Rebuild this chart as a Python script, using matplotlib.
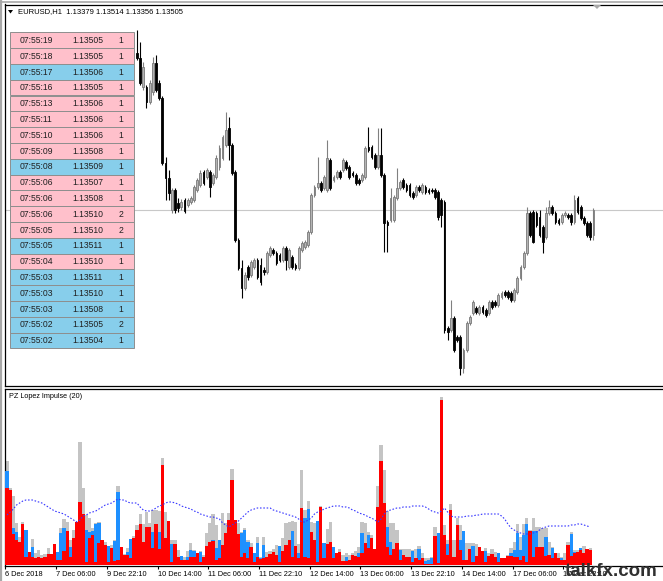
import matplotlib
matplotlib.use("Agg")
import matplotlib.pyplot as plt
from matplotlib.patches import Rectangle, Polygon
from matplotlib.lines import Line2D
import numpy as np

# ---------------- data ----------------
symbol = "EURUSD,H1"
header_ohlc = ["1.13379", "1.13514", "1.13356", "1.13505"]
bid_price = 1.13505

candle_start = 41
c_open = [1.14290, 1.14265, 1.14120, 1.14120, 1.14045, 1.14095, 1.14240, 1.14140, 1.14065, 1.13740,
          1.13665, 1.13505, 1.13605, 1.13540, 1.13520, 1.13555, 1.13530, 1.13545, 1.13555, 1.13605,
          1.13630, 1.13695, 1.13670, 1.13695, 1.13640, 1.13670, 1.13720, 1.13765, 1.13830, 1.13915,
          1.13830, 1.13695, 1.13355, 1.13215, 1.13115, 1.13220, 1.13180, 1.13220, 1.13255, 1.13230,
          1.13205, 1.13195, 1.13280, 1.13305, 1.13290, 1.13280, 1.13255, 1.13315, 1.13220, 1.13270,
          1.13230, 1.13215, 1.13305, 1.13320, 1.13330, 1.13395, 1.13580, 1.13620, 1.13640, 1.13615,
          1.13605, 1.13755, 1.13655, 1.13670, 1.13695, 1.13705, 1.13745, 1.13720, 1.13690, 1.13680,
          1.13655, 1.13655, 1.13670, 1.13820, 1.13820, 1.13780, 1.13720, 1.13780, 1.13680, 1.13445,
          1.13455, 1.13455, 1.13565, 1.13615, 1.13655, 1.13630, 1.13630, 1.13590, 1.13580, 1.13620,
          1.13595, 1.13620, 1.13605, 1.13605, 1.13605, 1.13595, 1.13555, 1.13545, 1.12915, 1.12905,
          1.12965, 1.12870, 1.12870, 1.12715, 1.12805, 1.12940, 1.12990, 1.13015, 1.12990, 1.13020,
          1.13005, 1.12990, 1.13045, 1.13045, 1.13030, 1.13070, 1.13095, 1.13095, 1.13090, 1.13055,
          1.13095, 1.13165, 1.13220, 1.13290, 1.13490, 1.13495, 1.13490, 1.13470, 1.13420, 1.13370,
          1.13490, 1.13520, 1.13490, 1.13455, 1.13445, 1.13480, 1.13480, 1.13480, 1.13445, 1.13565,
          1.13520, 1.13465, 1.13440, 1.13440, 1.13379]
c_close = [1.14265, 1.14140, 1.14220, 1.14045, 1.14140, 1.14240, 1.14105, 1.14065, 1.13740, 1.13665,
           1.13590, 1.13605, 1.13505, 1.13515, 1.13545, 1.13500, 1.13555, 1.13565, 1.13620, 1.13655,
           1.13690, 1.13640, 1.13705, 1.13620, 1.13680, 1.13765, 1.13815, 1.13870, 1.13905, 1.13830,
           1.13690, 1.13355, 1.13215, 1.13115, 1.13180, 1.13170, 1.13245, 1.13255, 1.13170, 1.13145,
           1.13195, 1.13290, 1.13315, 1.13290, 1.13240, 1.13255, 1.13315, 1.13255, 1.13305, 1.13220,
           1.13215, 1.13315, 1.13340, 1.13345, 1.13395, 1.13580, 1.13620, 1.13640, 1.13605, 1.13670,
           1.13765, 1.13615, 1.13670, 1.13695, 1.13670, 1.13755, 1.13715, 1.13670, 1.13680, 1.13640,
           1.13640, 1.13680, 1.13815, 1.13805, 1.13770, 1.13720, 1.13780, 1.13680, 1.13440, 1.13430,
           1.13565, 1.13570, 1.13615, 1.13645, 1.13620, 1.13605, 1.13580, 1.13570, 1.13620, 1.13605,
           1.13630, 1.13595, 1.13595, 1.13600, 1.13570, 1.13470, 1.13480, 1.12905, 1.12895, 1.12965,
           1.12805, 1.12855, 1.12715, 1.12805, 1.12940, 1.12970, 1.13045, 1.12995, 1.13020, 1.12995,
           1.12980, 1.13045, 1.13020, 1.13030, 1.13080, 1.13090, 1.13080, 1.13070, 1.13055, 1.13105,
           1.13165, 1.13220, 1.13290, 1.13490, 1.13380, 1.13345, 1.13430, 1.13380, 1.13345, 1.13490,
           1.13520, 1.13490, 1.13445, 1.13440, 1.13480, 1.13490, 1.13470, 1.13445, 1.13555, 1.13495,
           1.13465, 1.13440, 1.13380, 1.13370, 1.13505]
c_high = [1.14405, 1.14345, 1.14245, 1.14130, 1.14155, 1.14270, 1.14280, 1.14155, 1.14075, 1.13770,
          1.13705, 1.13615, 1.13615, 1.13565, 1.13560, 1.13565, 1.13565, 1.13575, 1.13630, 1.13665,
          1.13705, 1.13705, 1.13715, 1.13705, 1.13690, 1.13780, 1.13830, 1.13880, 1.13995, 1.13970,
          1.13840, 1.13705, 1.13365, 1.13255, 1.13195, 1.13230, 1.13255, 1.13265, 1.13265, 1.13265,
          1.13220, 1.13300, 1.13325, 1.13315, 1.13300, 1.13290, 1.13325, 1.13325, 1.13315, 1.13280,
          1.13240, 1.13325, 1.13350, 1.13355, 1.13405, 1.13590, 1.13630, 1.13770, 1.13650, 1.13680,
          1.13855, 1.13765, 1.13680, 1.13705, 1.13705, 1.13765, 1.13755, 1.13730, 1.13700, 1.13690,
          1.13665, 1.13690, 1.13825, 1.13920, 1.13830, 1.13790, 1.13915, 1.13915, 1.13690, 1.13455,
          1.13615, 1.13580, 1.13715, 1.13655, 1.13665, 1.13640, 1.13640, 1.13600, 1.13630, 1.13630,
          1.13640, 1.13630, 1.13615, 1.13615, 1.13615, 1.13605, 1.13565, 1.13555, 1.12925, 1.13055,
          1.12975, 1.12880, 1.12880, 1.12815, 1.12950, 1.12980, 1.13055, 1.13025, 1.13030, 1.13030,
          1.13015, 1.13055, 1.13055, 1.13055, 1.13090, 1.13100, 1.13105, 1.13105, 1.13100, 1.13115,
          1.13175, 1.13230, 1.13300, 1.13520, 1.13500, 1.13505, 1.13500, 1.13505, 1.13430, 1.13520,
          1.13555, 1.13530, 1.13500, 1.13465, 1.13490, 1.13500, 1.13490, 1.13490, 1.13580, 1.13575,
          1.13530, 1.13475, 1.13450, 1.13450, 1.13514]
c_low = [1.14255, 1.14130, 1.14105, 1.14015, 1.14035, 1.14080, 1.14095, 1.14055, 1.13730, 1.13555,
         1.13555, 1.13490, 1.13490, 1.13495, 1.13505, 1.13490, 1.13520, 1.13535, 1.13545, 1.13595,
         1.13620, 1.13630, 1.13660, 1.13570, 1.13630, 1.13660, 1.13705, 1.13755, 1.13820, 1.13755,
         1.13680, 1.13345, 1.13205, 1.13065, 1.13105, 1.13155, 1.13170, 1.13210, 1.13160, 1.13130,
         1.13180, 1.13185, 1.13270, 1.13280, 1.13230, 1.13245, 1.13245, 1.13205, 1.13210, 1.13210,
         1.13205, 1.13205, 1.13295, 1.13310, 1.13320, 1.13385, 1.13570, 1.13610, 1.13595, 1.13605,
         1.13595, 1.13605, 1.13645, 1.13660, 1.13660, 1.13695, 1.13705, 1.13660, 1.13670, 1.13630,
         1.13630, 1.13645, 1.13660, 1.13795, 1.13760, 1.13710, 1.13710, 1.13670, 1.13295, 1.13295,
         1.13445, 1.13445, 1.13555, 1.13605, 1.13610, 1.13595, 1.13570, 1.13560, 1.13570, 1.13595,
         1.13585, 1.13585, 1.13585, 1.13590, 1.13560, 1.13455, 1.13420, 1.12890, 1.12855, 1.12895,
         1.12795, 1.12845, 1.12680, 1.12690, 1.12795, 1.12930, 1.12980, 1.12985, 1.12980, 1.12985,
         1.12970, 1.12980, 1.13010, 1.13020, 1.13020, 1.13060, 1.13070, 1.13060, 1.13045, 1.13045,
         1.13085, 1.13155, 1.13210, 1.13280, 1.13370, 1.13340, 1.13420, 1.13370, 1.13290, 1.13360,
         1.13480, 1.13480, 1.13435, 1.13430, 1.13435, 1.13470, 1.13460, 1.13430, 1.13435, 1.13485,
         1.13455, 1.13430, 1.13370, 1.13355, 1.13356]

# PZ Lopez Impulse (20): total (grey), bullish (blue), bearish (red), average (dotted)
imp_total = [104, 77, 69, 42, 28, 43, 35, 13, 26, 12,
             15, 10, 11, 17, 11, 21, 13, 37, 46, 43,
             25, 35, 43, 123, 77, 50, 47, 37, 42, 43,
             25, 23, 19, 20, 25, 79, 18, 11, 17, 26,
             29, 40, 51, 41, 53, 42, 55, 55, 54, 107,
             53, 44, 25, 25, 15, 9, 8, 14, 22, 15,
             12, 14, 10, 32, 42, 51, 40, 25, 52, 42,
             52, 96, 45, 42, 33, 37, 25, 22, 12, 28,
             8, 28, 13, 14, 16, 20, 19, 27, 42, 43,
             44, 43, 21, 95, 55, 64, 43, 42, 44, 59,
             22, 36, 43, 18, 12, 16, 10, 12, 10, 12,
             14, 18, 43, 42, 33, 30, 16, 79, 120, 95,
             54, 42, 42, 35, 16, 16, 16, 16, 15, 16,
             19, 12, 7, 7, 8, 38, 32, 168, 40, 25,
             61, 25, 47, 40, 34, 22, 22, 22, 21, 18,
             14, 17, 12, 16, 13, 12, 7, 7, 10, 17,
             23, 41, 28, 41, 47, 35, 47, 38, 38, 37,
             37, 23, 18, 12, 12, 8, 12, 23, 33, 15,
             15, 17, 19, 16, 17]
imp_bull = [94, 0, 37, 33, 0, 0, 35, 0, 18, 0,
            0, 5, 0, 0, 0, 0, 13, 32, 37, 0,
            18, 0, 0, 0, 0, 35, 33, 34, 41, 42,
            0, 0, 19, 0, 24, 73, 0, 0, 13, 26,
            0, 0, 0, 0, 0, 0, 33, 0, 33, 0,
            0, 0, 21, 0, 0, 9, 0, 8, 15, 14,
            0, 13, 0, 0, 0, 25, 17, 25, 0, 0,
            0, 0, 0, 0, 32, 35, 23, 0, 12, 22,
            7, 20, 0, 0, 0, 0, 19, 0, 0, 0,
            34, 0, 12, 0, 47, 56, 0, 0, 44, 0,
            22, 0, 0, 18, 0, 0, 0, 8, 0, 0,
            0, 12, 32, 0, 30, 0, 0, 0, 0, 0,
            38, 23, 0, 0, 15, 0, 0, 0, 14, 0,
            16, 0, 4, 5, 7, 0, 32, 0, 0, 21,
            0, 0, 0, 25, 34, 0, 0, 19, 0, 0,
            0, 14, 0, 0, 0, 12, 0, 0, 0, 12,
            15, 32, 15, 30, 41, 0, 34, 34, 0, 0,
            28, 0, 17, 0, 0, 7, 0, 0, 31, 13,
            0, 17, 0, 0, 0]
imp_bear = [77, 75, 31, 25, 23, 41, 8, 13, 8, 7,
            8, 7, 8, 11, 11, 21, 5, 5, 14, 34,
            8, 27, 43, 63, 51, 3, 27, 30, 3, 22,
            25, 20, 3, 17, 4, 5, 18, 10, 10, 7,
            27, 35, 41, 23, 38, 38, 17, 41, 16, 100,
            27, 44, 3, 21, 8, 5, 5, 5, 8, 8,
            12, 3, 8, 19, 23, 24, 5, 7, 20, 32,
            45, 85, 45, 31, 8, 12, 7, 18, 3, 8,
            6, 7, 8, 11, 13, 10, 3, 14, 20, 25,
            8, 19, 7, 57, 8, 7, 33, 25, 3, 58,
            7, 21, 23, 7, 12, 13, 4, 4, 5, 10,
            9, 8, 12, 22, 17, 27, 16, 58, 104, 62,
            18, 10, 16, 22, 5, 10, 8, 8, 3, 7,
            5, 7, 1, 1, 1, 29, 2, 165, 30, 10,
            55, 8, 40, 15, 5, 5, 16, 3, 9, 18,
            14, 3, 9, 11, 8, 3, 7, 7, 9, 9,
            8, 8, 5, 9, 3, 34, 8, 18, 18, 18,
            9, 10, 7, 12, 7, 5, 5, 20, 9, 12,
            13, 15, 12, 16, 15]
imp_avg = [50, 53, 56, 60, 62, 64, 65, 65, 65, 64,
           63, 62, 60, 58, 56, 54, 53, 52, 51, 49,
           47, 45, 43, 45, 49, 50, 52, 53, 54, 56,
           58, 60, 61, 62, 64, 66, 65, 65, 63, 62,
           62, 62, 58, 55, 54, 54, 55, 57, 59, 60,
           62, 63, 63, 62, 61, 59, 58, 57, 56, 54,
           53, 51, 50, 49, 48, 48, 47, 46, 42, 40,
           38, 40, 42, 44, 47, 50, 53, 55, 56, 57,
           57, 57, 57, 57, 55, 54, 53, 52, 51, 50,
           49, 48, 46, 43, 43, 45, 47, 51, 53, 54,
           56, 57, 58, 59, 59, 59, 58, 58, 57, 55,
           54, 52, 51, 50, 48, 47, 45, 43, 46, 51,
           54, 55, 56, 57, 57, 58, 58, 58, 59, 59,
           59, 59, 58, 56, 54, 53, 52, 54, 57, 53,
           49, 48, 48, 48, 48, 49, 49, 49, 50, 50,
           51, 51, 51, 51, 51, 51, 49, 46, 41, 37,
           35, 33, 32, 31, 31, 31, 32, 33, 35, 37,
           38, 39, 39, 39, 39, 39, 39, 39, 40, 40,
           41, 41, 40, 39, 38]

time_labels = ["6 Dec 2018", "7 Dec 06:00", "9 Dec 22:10", "10 Dec 14:00", "11 Dec 06:00",
               "11 Dec 22:10", "12 Dec 14:00", "13 Dec 06:00", "13 Dec 22:10", "14 Dec 14:00",
               "17 Dec 06:00", "17 Dec 22:10"]
bars_per_label = 16

tape_time = ["07:55:19", "07:55:18", "07:55:17", "07:55:16", "07:55:13", "07:55:11", "07:55:10",
             "07:55:09", "07:55:08", "07:55:06", "07:55:06", "07:55:06", "07:55:05", "07:55:05",
             "07:55:04", "07:55:03", "07:55:03", "07:55:03", "07:55:02", "07:55:02"]
tape_price = ["1.13505", "1.13505", "1.13506", "1.13505", "1.13506", "1.13506", "1.13506",
              "1.13508", "1.13509", "1.13507", "1.13508", "1.13510", "1.13510", "1.13511",
              "1.13510", "1.13511", "1.13510", "1.13508", "1.13505", "1.13504"]
tape_volume = [1, 1, 1, 1, 1, 1, 1, 1, 1, 1, 1, 2, 2, 1, 1, 1, 1, 1, 2, 1]
tape_uptick = [0, 0, 1, 0, 0, 0, 0, 0, 1, 0, 0, 0, 0, 1, 0, 1, 1, 1, 1, 1]

# ---------------- figure ----------------
W, H = 663, 581
fig = plt.figure(figsize=(W / 100, H / 100), dpi=100)
fig.patch.set_facecolor("white")
FONT = "Liberation Sans"

bar_px = 3.17        # pixels per bar
x0_px = 7.0          # pixel of bar 0
left_px = 5.0
xlim = ((left_px - x0_px) / bar_px, (W - x0_px) / bar_px)

def fx(px):
    return px / W

def fy(py):
    return 1 - py / H

# price panel
ax = fig.add_axes([fx(left_px), fy(386), fx(W - left_px), (386 - 4.5) / H])
# indicator panel
ax2 = fig.add_axes([fx(left_px), fy(566), fx(W - left_px), (566 - 388.5) / H])

for a in (ax, ax2):
    a.set_xlim(*xlim)
    a.set_facecolor("white")
    for s in ("left", "top", "bottom"):
        a.spines[s].set_color("black")
        a.spines[s].set_linewidth(0.9)
    a.spines["right"].set_visible(False)
    a.set_yticks([])

# price scale: 0.5 pip per pixel, bid line at y=210 px
pip_per_px = 0.00005
ax.set_ylim(bid_price - (386 - 210) * pip_per_px, bid_price + (210 - 4.5) * pip_per_px)
ax.set_xticks([])
ax.axhline(bid_price, color="#c8c8c8", linewidth=0.8, zorder=1)

o = np.array(c_open); c = np.array(c_close)
hi = np.array(c_high); lo = np.array(c_low)
idx = np.arange(candle_start, candle_start + len(o))
bull = c >= o
wick_col = np.where(bull, "#808080", "black")
ax.vlines(idx, lo, hi, colors=wick_col, linewidth=0.8, zorder=2)
body_bottom = np.minimum(o, c)
body_h = np.maximum(np.abs(c - o), 0.00001)
ax.bar(idx[bull], body_h[bull], bottom=body_bottom[bull], width=0.55,
       facecolor="#b4b4b4", edgecolor="#7a7a7a", linewidth=0.6, zorder=3)
ax.bar(idx[~bull], body_h[~bull], bottom=body_bottom[~bull], width=0.55,
       facecolor="black", edgecolor="black", linewidth=0.6, zorder=3)

# indicator
ii = np.arange(len(imp_total))
ax2.set_ylim(-1, 176.5)
ax2.bar(ii, imp_total, width=1.02, color="#c4c4c4", linewidth=0, antialiased=False, zorder=2)
ax2.bar(ii, imp_bull, width=1.02, color="#1e90ff", linewidth=0, antialiased=False, zorder=3)
ax2.bar(ii, imp_bear, width=1.02, color="#ff0000", linewidth=0, antialiased=False, zorder=4)
ax2.plot(ii, imp_avg, color="#3535ff", linestyle=(0, (1.4, 1.6)), linewidth=0.8, zorder=5)

tick_pos = np.arange(len(time_labels)) * bars_per_label - 0.5
ax2.set_xticks(tick_pos)
ax2.set_xticklabels(time_labels, fontsize=5.3, family=FONT, ha="left", color="black")
ax2.tick_params(axis="x", length=2.3, width=0.8, pad=1.6, color="black")

# ---------------- overlay (pixel coordinates) ----------------
ov = fig.add_axes([0, 0, 1, 1], zorder=10)
ov.set_xlim(0, W)
ov.set_ylim(H, 0)
ov.axis("off")
ov.patch.set_alpha(0)

# window borders
ov.add_line(Line2D([1, 1], [0, H], color="#a8a8a8", linewidth=1.6))
ov.add_line(Line2D([1, W], [2.3, 2.3], color="#a8a8a8", linewidth=1.2))

# header
ov.add_patch(Polygon([[8, 10], [13, 10], [10.5, 13.5]], closed=True, color="black", linewidth=0))
ov.text(18, 12, symbol + "  " + " ".join(header_ohlc), fontsize=5.5, family=FONT,
        color="black", va="center", ha="left")
# shift marker
ov.add_patch(Polygon([[593, 5], [601, 5], [597, 9]], closed=True, color="#a8a8a8", linewidth=0))

# indicator title
ov.text(9, 396, "PZ Lopez Impulse (20)", fontsize=5.2, family=FONT, color="black",
        va="center", ha="left")

# tick tape table
row_h = 15.8
tab_top = 32.3
tab_left, tab_right = 9.5, 134.0
for k in range(len(tape_time)):
    ytop = tab_top + k * row_h
    col = "#87ceeb" if tape_uptick[k] else "#ffc0cb"
    ov.add_patch(Rectangle((tab_left, ytop), tab_right - tab_left, row_h,
                           facecolor=col, edgecolor="#8e8e8e", linewidth=0.7))
    yc = ytop + row_h / 2 + 0.3
    ov.text(36.5, yc, tape_time[k], fontsize=6.2, family=FONT, color="#202020", ha="center", va="center")
    ov.text(87.5, yc, tape_price[k], fontsize=6.2, family=FONT, color="#202020", ha="center", va="center")
    ov.text(121, yc, str(tape_volume[k]), fontsize=6.2, family=FONT, color="#202020", ha="center", va="center")

# watermark (covers the last time label as in the source screenshot)
ov.text(611, 571, "talkfx.com", fontsize=13.5, family=FONT, fontweight="bold",
        color="#303030", ha="center", va="center")

fig.savefig("out.png", dpi=100, facecolor="white")
